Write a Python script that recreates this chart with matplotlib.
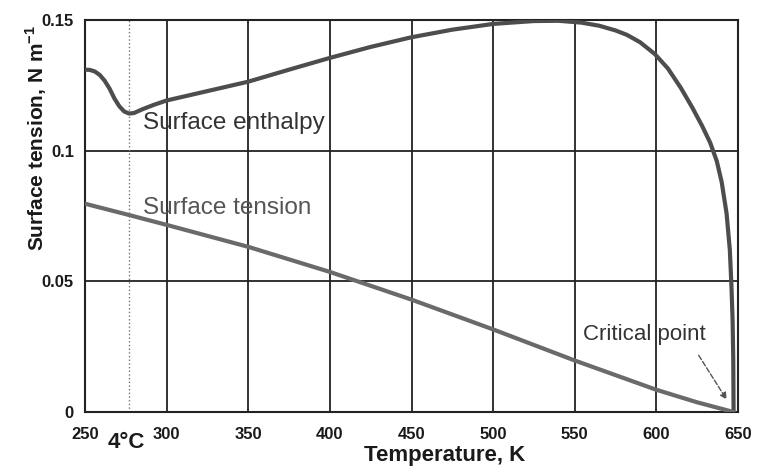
import numpy as np
import matplotlib
matplotlib.use('Agg')
import matplotlib.pyplot as plt

plt.rcParams['font.family'] = ['Liberation Sans', 'DejaVu Sans']
plt.rcParams['mathtext.fontset'] = 'custom'
plt.rcParams['mathtext.rm'] = 'Liberation Sans'
plt.rcParams['mathtext.bf'] = 'Liberation Sans:bold'

###############################################################################
# values
###############################################################################
T_enth = [250, 253, 256, 259, 262, 265, 268, 271, 274, 277, 280, 285, 292,
          300, 325, 350, 375, 400, 425, 450, 475, 500, 525, 540, 554, 565,
          575, 582, 590, 599, 607, 615, 622, 628, 633, 637, 640, 643, 645,
          646, 646.7, 647.1, 647.3]
H_enth = [0.1310, 0.1309, 0.1303, 0.1290, 0.1268, 0.1238, 0.1200, 0.1170,
          0.1150, 0.1142, 0.1144, 0.1158, 0.1175, 0.1192, 0.1228, 0.1264,
          0.1310, 0.1355, 0.1397, 0.1434, 0.1463, 0.1485, 0.1496, 0.1497,
          0.1490, 0.1478, 0.1460, 0.1443, 0.1415, 0.1370, 0.1315, 0.1240,
          0.1165, 0.1095, 0.1030, 0.0960, 0.0880, 0.0760, 0.0620, 0.0480,
          0.0350, 0.0200, 0.0]

T_tens = [250, 275, 300, 350, 400, 450, 500, 550, 600, 625, 647.3]
G_tens = [0.0797, 0.0757, 0.0716, 0.0632, 0.0536, 0.0430, 0.0316, 0.0197,
          0.0085, 0.0037, 0.0]

x_ticks = [250, 300, 350, 400, 450, 500, 550, 600, 650]
y_ticks = [0, 0.05, 0.1, 0.15]
y_tick_labels = ['0', '0.05', '0.1', '0.15']

T_4C = 277.15

###############################################################################
fig = plt.figure(figsize=(7.67, 4.69), dpi=100)
ax = fig.add_axes([85/767, 1-412/469, 653/767, 392/469])

ax.set_xlim(250, 650)
ax.set_ylim(0, 0.15)
ax.set_xticks(x_ticks)
ax.set_yticks(y_ticks)
ax.set_yticklabels(y_tick_labels)
ax.tick_params(length=0, labelsize=12, pad=8)
ax.tick_params(axis='x', pad=11)
for lab in ax.get_xticklabels() + ax.get_yticklabels():
    lab.set_fontweight('bold')
    lab.set_color('#1a1a1a')

ax.grid(True, color='#222222', lw=1.3)
ax.set_axisbelow(True)
for s in ax.spines.values():
    s.set_color('#222222')
    s.set_linewidth(1.5)

# 4 C marker
ax.axvline(T_4C, color='#777777', lw=1.0, ls=':', zorder=1)

ax.plot(T_enth, H_enth, color='#4d4d4d', lw=3.0, solid_capstyle='round',
        solid_joinstyle='round', zorder=3)
ax.plot(T_tens, G_tens, color='#6a6a6a', lw=3.0, solid_capstyle='round',
        solid_joinstyle='round', zorder=3)

ax.text(285.5, 0.1106, 'Surface enthalpy', fontsize=17.5, color='#333333',
        va='center', ha='left')
ax.text(285.5, 0.0781, 'Surface tension', fontsize=17.5, color='#555555',
        va='center', ha='left')
ax.text(555, 0.0295, 'Critical point', fontsize=16, color='#333333',
        va='center', ha='left')
ax.annotate('', xy=(644, 0.0038), xytext=(625, 0.0226),
            arrowprops=dict(arrowstyle='-|>', color='#555555', lw=1.0,
                            ls='--', mutation_scale=10))

ax.text(0.063, -0.079, '4°C', transform=ax.transAxes, fontsize=16,
        fontweight='bold', ha='center', va='center', color='#1a1a1a')
ax.text(0.551, -0.11, 'Temperature, K', transform=ax.transAxes, fontsize=16,
        fontweight='bold', ha='center', va='center', color='#1a1a1a')
ax.text(-0.075, 0.70, r'Surface tension, N m$^{\mathbf{-1}}$', transform=ax.transAxes,
        fontsize=15, fontweight='bold', rotation=90, ha='center', va='center',
        color='#1a1a1a')

fig.savefig('out.png', dpi=100)
